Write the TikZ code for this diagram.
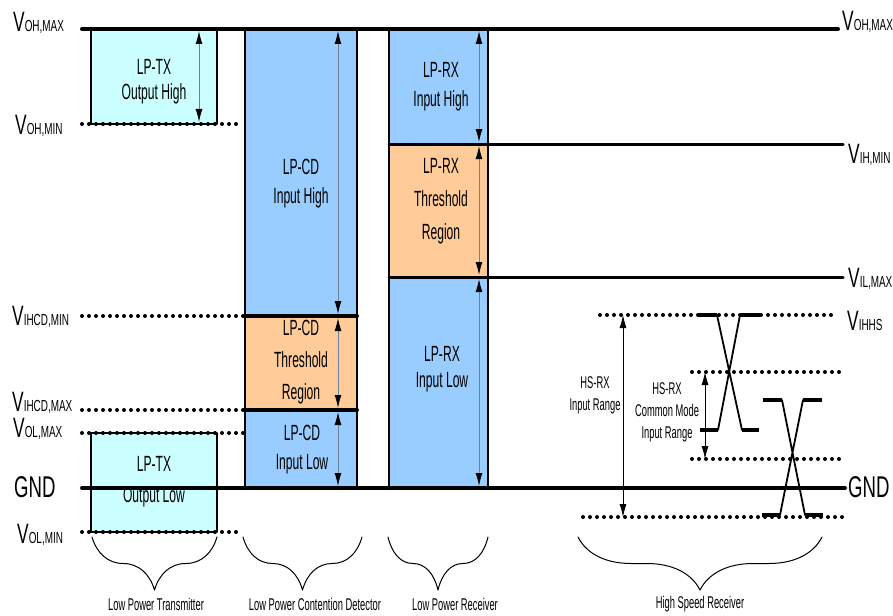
\documentclass[tikz,border=0pt]{standalone}
\usepackage{fontspec}
\setmainfont[FakeStretch=0.62]{Liberation Sans}
\newfontfamily\narrowfont[FakeStretch=0.55]{Liberation Sans}
\usetikzlibrary{arrows.meta, decorations.pathreplacing}
\definecolor{txcyan}{HTML}{CCFFFF}
\definecolor{lpblue}{HTML}{99CCFF}
\definecolor{thtan}{HTML}{FFCC99}
\definecolor{spangray}{HTML}{6E7F99}
\tikzset{
  >={Latex[length=13pt, width=7pt]},
  every picture/.style={line cap=round, line join=round},
  level/.style={line width=4pt},
  sublevel/.style={line width=3pt},
  dotline/.style={line width=4pt, line cap=round, dash pattern=on 0pt off 7pt},
  coledge/.style={line width=1.6pt},
  txbox/.style={fill=txcyan, line width=2.5pt},
  span/.style={<->, spangray, line width=1pt, >={Latex[length=13pt, width=7pt, color=black]}, shorten <=2pt, shorten >=2pt},
  hsspan/.style={<->, line width=0.8pt},
  inlab/.style={font=\narrowfont\fontsize{22}{29}\selectfont, align=center, inner sep=0pt},
  hslab/.style={font=\narrowfont\fontsize{17}{22}\selectfont, align=center, inner sep=0pt},
  vlab/.style={font=\fontsize{28}{30}\selectfont, inner sep=0pt, anchor=base west},
  grplab/.style={font=\narrowfont\fontsize{17}{18}\selectfont, inner sep=0pt},
  grp/.style={decorate, decoration={brace, amplitude=53pt}, line width=1pt},
  slope/.style={line width=1.8pt},
  flat/.style={line width=4pt, line cap=butt},
}
% level name: large V with small subscript on the same baseline
\newcommand{\vname}[1]{V{\fontsize{16}{16}\selectfont #1}}

\begin{document}
\begin{tikzpicture}[x=1pt, y=-1pt]
  \useasboundingbox (0,0) rectangle (893,615);
  % low power transmitter boxes
  \filldraw[txbox] (91,29) rectangle (217,124);
  \filldraw[txbox] (91,433) rectangle (217,532);
  % contention detector column
  \fill[lpblue] (245,29) rectangle (357,316);
  \fill[thtan] (245,316) rectangle (357,410);
  \fill[lpblue] (245,410) rectangle (357,488);
  \draw[coledge] (245,29) -- (245,488) (357,29) -- (357,488);
  % low power receiver column
  \fill[lpblue] (389,29) rectangle (488,144);
  \fill[thtan] (389,144) rectangle (488,277);
  \fill[lpblue] (389,277) rectangle (488,488);
  \draw[coledge] (389,29) -- (389,488) (488,29) -- (488,488);
  % level lines
  \draw[level] (82,29) -- (838,29);
  \draw[level] (82,488) -- (845,488);
  \draw[sublevel] (389,144) -- (843,144);
  \draw[sublevel] (389,277) -- (843,277);
  \draw[level] (245,316) -- (357,316) (245,410) -- (357,410);
  % dotted levels on the left
  \draw[dotline] (82,124) -- (237,124);
  \draw[dotline] (82,316) -- (245,316);
  \draw[dotline] (82,410) -- (245,410);
  \draw[dotline] (82,433) -- (245,433);
  \draw[dotline] (82,532) -- (243,532);
  % ranges inside the columns
  \draw[span] (199,29) -- (199,124);
  \draw[span] (338,29) -- (338,316);
  \draw[span] (338,316) -- (338,410);
  \draw[span] (338,410) -- (338,488);
  \draw[span] (479,29) -- (479,144);
  \draw[span] (479,144) -- (479,277);
  \draw[span] (479,277) -- (479,488);
  % column texts
  \node[inlab, font=\narrowfont\fontsize{22}{25}\selectfont] (txhigh) at (154,82) {LP-TX\\Output High};
  \node[inlab, font=\narrowfont\fontsize{22}{31}\selectfont] (txlow) at (154,482) {LP-TX\\Output Low};
  \node[inlab] (cdhigh) at (301,184) {LP-CD\\Input High};
  \node[inlab, font=\narrowfont\fontsize{22}{32}\selectfont] (cdthr) at (301,362) {LP-CD\\Threshold\\Region};
  \node[inlab] (cdlow) at (302,450) {LP-CD\\Input Low};
  \node[inlab] (rxhigh) at (441,87) {LP-RX\\Input High};
  \node[inlab, font=\narrowfont\fontsize{22}{33}\selectfont] (rxthr) at (441,201) {LP-RX\\Threshold\\Region};
  \node[inlab, font=\narrowfont\fontsize{22}{26}\selectfont] (rxlow) at (442,369) {LP-RX\\Input Low};
  % high speed receiver: levels and ranges
  \draw[dotline] (600,315) -- (838,315);
  \draw[dotline] (692,372) -- (845,372);
  \draw[dotline] (692,459) -- (845,459);
  \draw[dotline] (583,517) -- (845,517);
  \draw[hsspan] (623,315) -- (623,517);
  \draw[hsspan] (705,372) -- (705,459);
  \node[hslab] (hsin) at (595,395) {HS-RX\\Input Range};
  \node[hslab] (hscm) at (667,412) {HS-RX\\Common Mode\\Input Range};
  % differential pairs at the top and bottom of the common mode range
  \draw[flat] (698,315) -- (717,315) (740,315) -- (760,315) (700,430) -- (718,430) (742,430) -- (759,430);
  \draw[slope] (717,315) -- (742,430) (740,315) -- (718,430);
  \draw[flat] (763,400) -- (782,400) (803,400) -- (822,400) (762,515) -- (780,515) (805,515) -- (823,515);
  \draw[slope] (782,400) -- (805,515) (803,400) -- (780,515);
  % level names, left
  \node[vlab] (ohmaxl) at (13,32) {\vname{OH,MAX}};
  \node[vlab] (ohminl) at (15,134) {\vname{OH,MIN}};
  \node[vlab] (cdminl) at (12,325) {\vname{IHCD,MIN}};
  \node[vlab] (cdmaxl) at (12,411) {\vname{IHCD,MAX}};
  \node[vlab] (olmaxl) at (13,437) {\vname{OL,MAX}};
  \node[vlab, font=\fontsize{30}{32}\selectfont] (gndl) at (14,497) {GND};
  \node[vlab] (olminl) at (17,543) {\vname{OL,MIN}};
  % level names, right
  \node[vlab] (ohmaxr) at (842,31) {\vname{OH,MAX}};
  \node[vlab] (ihminr) at (848,163) {\vname{IH,MIN}};
  \node[vlab] (ilmaxr) at (848,287) {\vname{IL,MAX}};
  \node[vlab] (ihhsr) at (847,330) {\vname{IHHS}};
  \node[vlab, font=\fontsize{30}{32}\selectfont] (gndr) at (848,497) {GND};
  % groups
  \draw[grp] (217,537) -- (92,537);
  \draw[grp] (362,537) -- (243,537);
  \draw[grp] (488,537) -- (388,537);
  \draw[grp] (822,537) -- (578,537);
  \node[grplab] (lptx) at (156,604) {Low Power Transmitter};
  \node[grplab] (lpcd) at (315,604) {Low Power Contention Detector};
  \node[grplab] (lprx) at (455,604) {Low Power Receiver};
  \node[grplab] (hsrx) at (700,604) {High Speed Receiver};
\end{tikzpicture}
\end{document}
